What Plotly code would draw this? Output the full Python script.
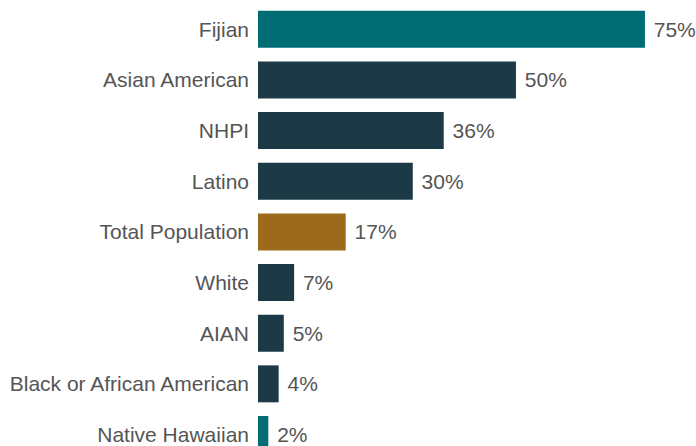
import plotly.graph_objects as go

categories = ["Fijian", "Asian American", "NHPI", "Latino", "Total Population",
              "White", "AIAN", "Black or African American", "Native Hawaiian"]
values = [75, 50, 36, 30, 17, 7, 5, 4, 2]
labels = ["75%", "50%", "36%", "30%", "17%", "7%", "5%", "4%", "2%"]
colors = ["#006d75", "#1b3a45", "#1b3a45", "#1b3a45", "#9c6a1b",
          "#1b3a45", "#1b3a45", "#1b3a45", "#006d75"]

fig = go.Figure(go.Bar(
    x=values, y=categories, orientation="h",
    marker=dict(color=colors, line=dict(width=0)),
    text=labels, texttemplate=" %{text}", textposition="outside", cliponaxis=False,
    textfont=dict(color="#555555", size=21),
    hoverinfo="skip",
))

fig.update_layout(
    width=696, height=446,
    margin=dict(l=258, r=0, t=0, b=0),
    paper_bgcolor="white", plot_bgcolor="white",
    font=dict(family="Liberation Sans, Arial, sans-serif", color="#555555", size=21),
    bargap=0.27,
    showlegend=False,
)
fig.update_xaxes(range=[0, 84.9], visible=False, showgrid=False, zeroline=False)
fig.update_yaxes(range=[8.227, -0.578], showgrid=False, zeroline=False, showline=False,
                 ticks="", ticklabelstandoff=8, automargin=False)

fig.write_html("out.html", config={"displayModeBar": False, "staticPlot": True},
               post_script="document.body.style.margin='0';document.body.style.overflow='hidden';")
